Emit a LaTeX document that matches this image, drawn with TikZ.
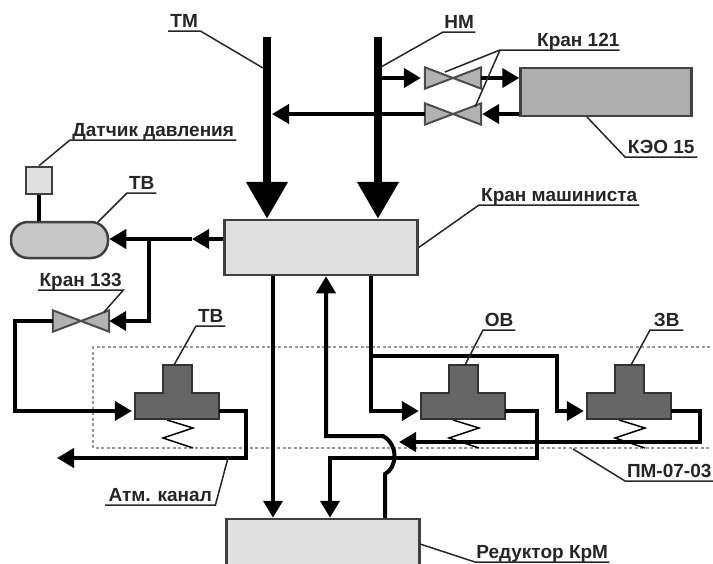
\documentclass[tikz,border=0pt]{standalone}
\usepackage{fontspec}
\setmainfont{Liberation Sans}
\usetikzlibrary{arrows.meta, positioning}

\begin{document}
\begin{tikzpicture}[
    x=1pt, y=-1pt,
    box/.style={rectangle, draw=black!75, line width=2.5pt, fill=black!12, inner sep=0pt},
    sensor/.style={box, minimum width=26pt, minimum height=27pt},
    tank/.style={box, fill=black!22, rounded corners=17pt, minimum width=97pt, minimum height=36pt},
    valvebox/.style={rectangle, inner sep=0pt, minimum width=56pt, minimum height=21pt},
    valve/.style={draw=black!70, line width=2pt, fill=black!30, line join=miter},
    pistonbase/.style={rectangle, inner sep=0pt, minimum width=84pt, minimum height=26pt},
    piston/.style={draw=black!80, line width=2pt, fill=black!60},
    spring/.style={draw=black, line width=1.5pt},
    pipe/.style={draw=black, line width=4pt},
    arr/.style={pipe, -{Triangle[length=17pt, width=19pt]}},
    bigarr/.style={draw=black, line width=8pt, -{Triangle[length=37pt, width=40pt]}},
    frame/.style={draw=black!40, line width=1.5pt, dashed, dash pattern=on 3pt off 2.5pt},
    lbl/.style={font=\bfseries\fontsize{19}{21}\selectfont, text=black!85, anchor=south west,
                inner xsep=0pt, inner ysep=3pt, text height=13.5pt, text depth=0pt, align=center},
    lead/.style={draw=black!85, line width=1.5pt},
]
\clip (0,0) rectangle (713,563);

% Frame
\draw[frame] (710,347) -- (93,347) -- (93,448) -- (710,448);

% Boxes
\node[box, minimum width=193pt, minimum height=55pt] (km) at (321,247.5) {};
\node[box, minimum width=193pt, minimum height=55pt] (red) at (323,546.5) {};
\node[box, fill=black!32, minimum width=171pt, minimum height=48pt] (keo) at (606,92) {};
\node[sensor] (dat) at (39,180.5) {};
\node[tank] (tv) at (59.5,240) {};

% Valves
\node[valvebox] (vtop) at (453,78) {};
\node[valvebox] (vbot) at (453,114) {};
\node[valvebox] (vkr) at (81,321) {};
\foreach \v in {vtop, vbot, vkr} {
    \draw[valve] (\v.north west) -- (\v.south east) -- (\v.north east) -- (\v.south west) -- cycle;
}

% Relay valves
\foreach \p/\x in {ptv/177, pov/463, pzv/629} {
    \node[pistonbase] (\p) at (\x,406) {};
    \draw[spring] (\x-10,420) -- (\x+16,428) -- (\x-14,438) -- (\x+16,448);
    \draw[piston] (\x-42,393) -- (\x-14,393) -- (\x-14,365) -- (\x+15,365) -- (\x+15,393)
        -- (\x+42,393) -- (\x+42,419) -- (\x-42,419) -- cycle;
}

% Main lines
\coordinate (tmtop) at (267,37);
\coordinate (nmtop) at (378,37);
\draw[bigarr] (tmtop) -- (tmtop |- km.north);
\draw[bigarr] (nmtop) -- (nmtop |- km.north);

% KEO
\coordinate (nmjoin) at (378,78);
\coordinate (tmjoin) at (272,114);
\coordinate (keoin) at (keo.west |- vtop);
\draw[arr] (nmjoin) -- ([xshift=-4pt]vtop.west);
\draw[arr] (vtop.east) -- (keoin);
\draw[arr] (keo.west |- vbot) -- ([xshift=1pt]vbot.east);
\draw[arr] (vbot.west) -- (tmjoin);

% Brake cylinder branch
\coordinate (midtip) at (192,239);
\coordinate (branch) at (149,239);
\draw[arr] (km.west |- midtip) -- (midtip);
\draw[arr] (midtip) -- (tv.east |- midtip);
\draw[pipe] (dat.south) -- (dat.south |- tv.north);
\draw[arr, line join=miter] (branch) |- (vkr.east);
\draw[arr, line join=miter] (vkr.west) -- (15,321) |- ([yshift=-5pt,xshift=-3pt]ptv.west);
\draw[arr, line join=miter] ([yshift=-5pt]ptv.east) -- (246,411) |- (57,458);

% Reducer lines
\draw[arr] ([xshift=-48pt]km.south) -- ([xshift=-50pt]red.north);
\draw[arr, line join=miter] ([xshift=62pt]red.north) -- (385,474) .. controls (397,468) and (399,445) .. (383,436)
    -- (326,436) -- ([xshift=5pt]km.south);
\draw[arr, line join=miter] ([yshift=-5pt]pov.east) -- (537,411) |- (330,458) -- ([xshift=7pt]red.north);
\draw[arr, line join=miter] ([xshift=50pt]km.south) |- ([yshift=-5pt,xshift=-2pt]pov.west);
\draw[arr, line join=miter] (371,356) -- (557,356) |- ([yshift=-5pt,xshift=-3pt]pzv.west);
\draw[arr, line join=miter] ([yshift=-5pt]pzv.east) -- (700,411) |- (399,442);

% Labels
\node[lbl, minimum width=32pt] (ltm) at (168,31) {ТМ};
\node[lbl, minimum width=32pt] (lnm) at (443,32) {НМ};
\node[lbl, minimum width=118pt, align=right] (lkr) at (500,50) {\hspace*{37pt}Кран 121};
\node[lbl, minimum width=72pt] (lkeo) at (625,157) {КЭО 15};
\node[lbl, minimum width=166pt] (ldat) at (70,140) {Датчик давления};
\node[lbl, minimum width=29pt] (ltv) at (127,193) {ТВ};
\node[lbl, minimum width=160pt] (lkm) at (479,205) {Кран машиниста};
\node[lbl, minimum width=85pt] (lkr3) at (38,290) {Кран 133};
\node[lbl, minimum width=29pt] (ltv2) at (196,326) {ТВ};
\node[lbl, minimum width=32pt] (lov) at (483,330) {ОВ};
\node[lbl, minimum width=33pt] (lzv) at (650,330) {ЗВ};
\node[lbl, minimum width=88pt] (lpm) at (625,481) {ПМ-07-03};
\node[lbl, minimum width=110pt] (latm) at (105,505) {Атм. канал};
\node[lbl, minimum width=134pt] (lred) at (475,562) {Редуктор КрМ};

% Leaders
\draw[lead] (ltm.south west) -- (ltm.south east) -- (263,68);
\draw[lead] (lnm.south east) -- (lnm.south west) -- (381,67);
\draw[lead] (lkr.south east) -- (lkr.south west) -- (445,72);
\draw[lead] (lkr.south west) -- (475,107);
\draw[lead] (lkeo.south east) -- (lkeo.south west) -- (587,117);
\draw[lead] (ldat.south east) -- (ldat.south west) -- (dat.north);
\draw[lead] (ltv.south east) -- (ltv.south west) -- (98,222);
\draw[lead] (lkm.south east) -- (lkm.south west) -- (km.east);
\draw[lead] (lkr3.south west) -- (lkr3.south east) -- (104,312);
\draw[lead] (ltv2.south east) -- (ltv2.south west) -- (174,365);
\draw[lead] (lov.south east) -- (lov.south west) -- (465,365);
\draw[lead] (lzv.south east) -- (lzv.south west) -- (631,365);
\draw[lead] (lpm.south east) -- (lpm.south west) -- (573,449);
\draw[lead] (latm.south west) -- (latm.south east) -- (228,458);
\draw[lead] (lred.south east) -- (lred.south west) -- (420,544);

\end{tikzpicture}
\end{document}
